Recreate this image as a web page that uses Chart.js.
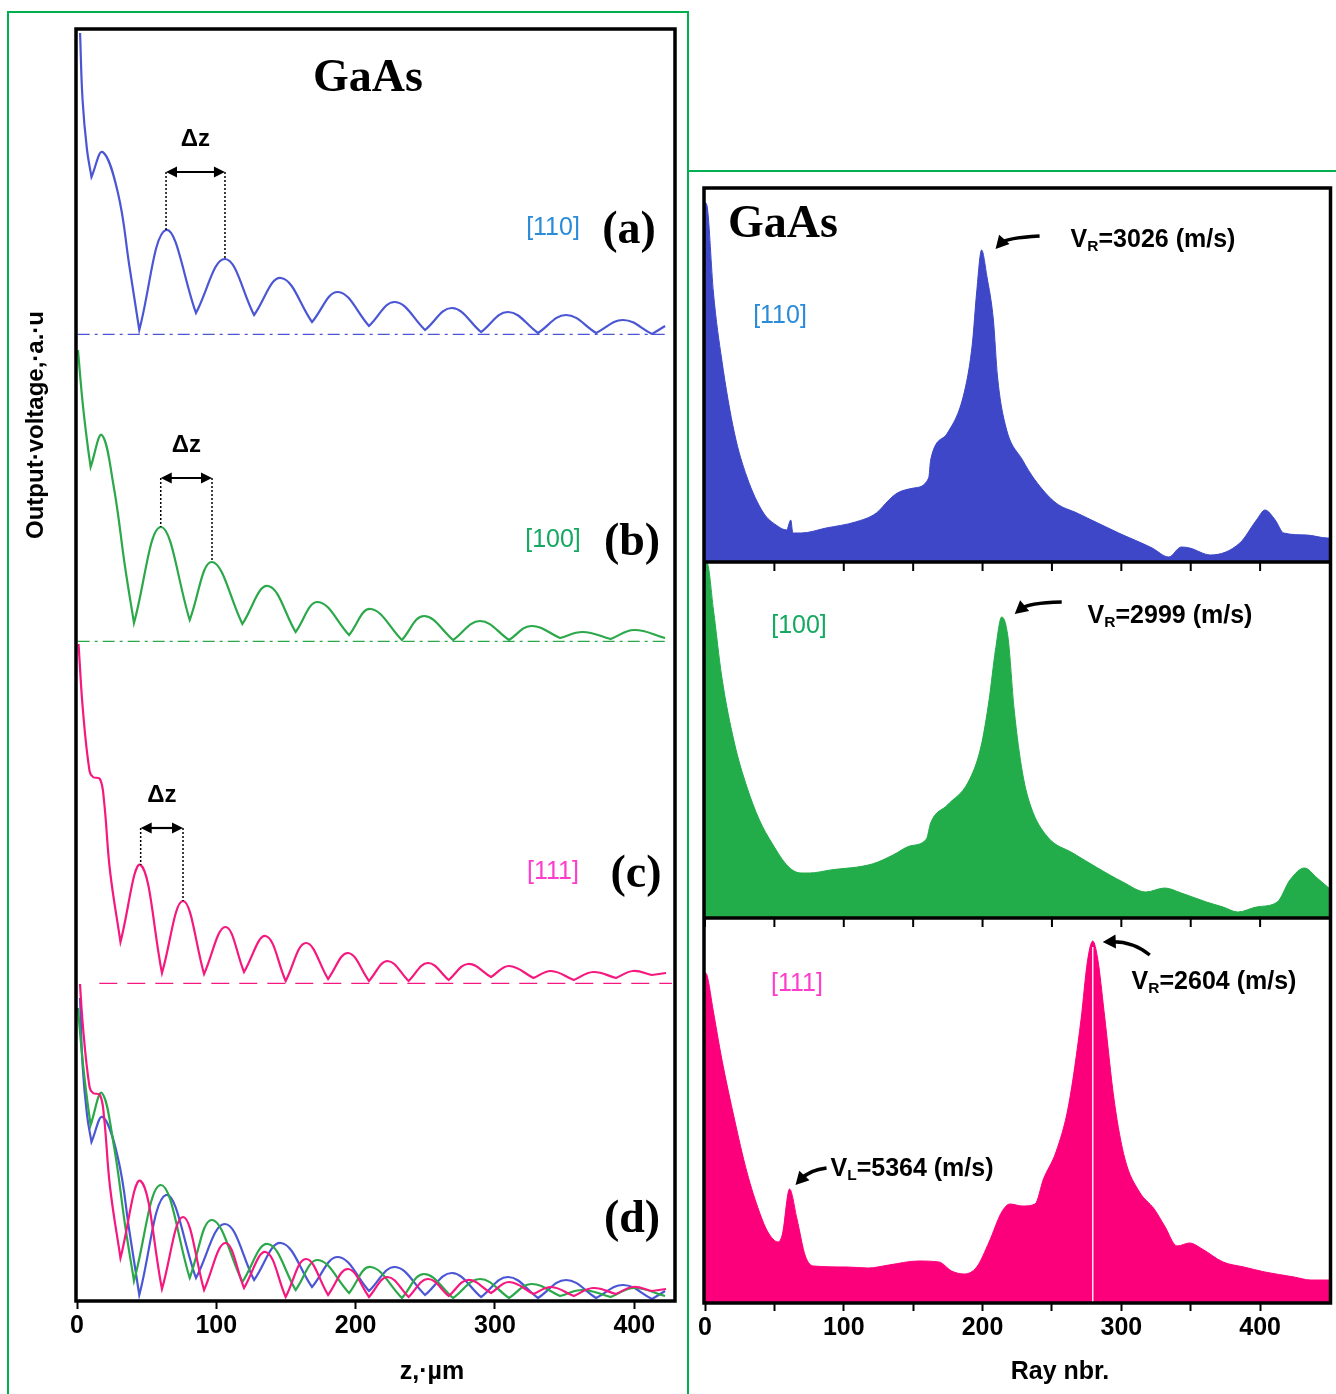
<!DOCTYPE html>
<html>
<head>
<meta charset="utf-8">
<title>GaAs</title>
<script src="https://cdn.jsdelivr.net/npm/chart.js@4.4.1/dist/chart.umd.min.js"></script>
<style>
  html, body { margin: 0; padding: 0; background: #fff; }
  #page { position: relative; width: 1336px; height: 1394px; overflow: hidden; background: #fff; }
  .box-left { position: absolute; left: 7px; top: 11px; width: 682px; height: 1500px; box-sizing: border-box; border: 2px solid #00b050; }
  .box-right { position: absolute; left: 687px; top: 170px; width: 700px; height: 1500px; box-sizing: border-box; border-top: 2px solid #00b050; border-left: 2px solid #00b050; }
  canvas { position: absolute; top: 0; }
  #left { left: 0; }
  #right { left: 690px; }
  .t { position: absolute; transform: translate(-50%, -50%); white-space: nowrap; line-height: 1;
       font-family: "Liberation Sans", Arial, sans-serif; color: #000; }
  .b { font-weight: bold; font-size: 25px; }
  .serif { font-family: "Liberation Serif", "Times New Roman", serif; font-weight: bold; font-size: 46px; }
  .dir { font-size: 25px; }
  .vert { transform: translate(-50%, -50%) rotate(-90deg); font-weight: bold; font-size: 24px; }
  sub { font-size: 62%; vertical-align: -0.3em; line-height: 0; }
</style>
</head>
<body>
<div id="page">
  <div class="box-left"></div>
  <div class="box-right"></div>
  <canvas id="left" width="700" height="1394"></canvas>
  <canvas id="right" width="646" height="1394"></canvas>

  <!-- left figure texts -->
  <div class="t serif" style="left:368px;top:76px">GaAs</div>
  <div class="t dir" style="left:553px;top:226px;color:#2a8bd8">[110]</div>
  <div class="t serif" style="left:629px;top:228px">(a)</div>
  <div class="t dir" style="left:553px;top:538px;color:#14a860">[100]</div>
  <div class="t serif" style="left:632px;top:540px">(b)</div>
  <div class="t dir" style="left:553px;top:870px;color:#ff3ccc">[111]</div>
  <div class="t serif" style="left:636px;top:872px">(c)</div>
  <div class="t serif" style="left:632px;top:1217px">(d)</div>
  <div class="t vert" style="left:35px;top:425px">Output·voltage,·a.·u</div>
  <div class="t b" style="left:432px;top:1370px">z,·µm</div>

  <!-- right figure texts -->
  <div class="t serif" style="left:783px;top:222px">GaAs</div>
  <div class="t dir" style="left:780px;top:314px;color:#2a8bd8">[110]</div>
  <div class="t dir" style="left:799px;top:624px;color:#14a860">[100]</div>
  <div class="t dir" style="left:797px;top:982px;color:#ff3ccc">[111]</div>
  <div class="t b" style="left:1153px;top:238px">V<sub>R</sub>=3026 (m/s)</div>
  <div class="t b" style="left:1170px;top:614px">V<sub>R</sub>=2999 (m/s)</div>
  <div class="t b" style="left:1214px;top:980px">V<sub>R</sub>=2604 (m/s)</div>
  <div class="t b" style="left:912px;top:1167px">V<sub>L</sub>=5364 (m/s)</div>
  <div class="t b" style="left:1060px;top:1370px">Ray nbr.</div>
</div>

<script>
// ---------------- DATA ----------------

// left: output voltage (a.u.) against depth z (um)
const zTicks = [0, 100, 200, 300, 400];

const zBlue = [2.2, 4.0, 7.2, 10.4, 18.4, 29.4, 37.7, 44.7, 63.9, 85.4, 106.2, 127.1, 146.4, 168.7, 187.4,
  209.6, 228.3, 249.8, 269.2, 290.0, 309.4, 330.9, 351.0, 372.6, 392.0, 412.8, 422.1];
const vBlue = [3.02, 2.35, 1.85, 1.58, 1.83, 1.42, 0.68, 0.05, 1.05, 0.22, 0.76, 0.20, 0.57, 0.13, 0.43,
  0.09, 0.33, 0.05, 0.27, 0.03, 0.23, 0.02, 0.20, 0.02, 0.15, 0.01, 0.09];

const zGreen = [0.7, 4.0, 7.5, 9.8, 17.8, 26.4, 34.5, 40.9, 60.1, 80.9, 96.9, 118.7, 137.0, 156.9, 172.9,
  195.3, 210.7, 233.2, 249.1, 269.9, 289.3, 310.1, 325.9, 346.7, 363.0, 383.1, 399.9, 422.1];
const vGreen = [2.92, 2.40, 1.98, 1.75, 2.07, 1.55, 0.75, 0.19, 1.15, 0.22, 0.80, 0.18, 0.56, 0.10, 0.40,
  0.07, 0.33, 0.02, 0.26, 0.02, 0.21, 0.02, 0.16, 0.04, 0.10, 0.03, 0.12, 0.04];

const zPink = [1.1, 4.3, 9.0, 11.5, 16.5, 19.4, 23.7, 31.2, 45.7, 61.0, 76.1, 91.2, 106.5, 119.9, 135.4,
  149.8, 164.3, 180.2, 194.5, 209.6, 222.9, 238.0, 251.8, 266.8, 280.6, 297.2, 310.1, 327.7, 340.3,
  356.6, 370.4, 386.9, 399.1, 412.6, 422.8];
const vPink = [3.40, 2.73, 2.13, 2.07, 2.05, 1.83, 1.13, 0.42, 1.19, 0.11, 0.83, 0.10, 0.57, 0.12, 0.48,
  0.03, 0.41, 0.05, 0.31, 0.03, 0.23, 0.03, 0.21, 0.04, 0.20, 0.07, 0.18, 0.06, 0.13,
  0.04, 0.12, 0.06, 0.13, 0.09, 0.11];

// peaks bracketed by the Δz markers
const dzBlue = [63.9, 106.2];
const dzGreen = [60.1, 96.9];
const dzPink = [45.7, 76.1];

// right: amplitude (a.u.) against ray number
const rayTicks = [0, 50, 100, 150, 200, 250, 300, 350, 400];

const rayBlue = [0, 1.6, 6.1, 12.1, 21.2, 30.2, 42.2, 51.2, 58.8, 61.8, 63.3, 69.3, 87.3, 108.4, 123.5,
  132.5, 138.6, 150.6, 161.2, 162.6, 174.7, 186.7, 192.7, 195.7, 199.3, 203.2, 207.8, 210.8, 216.8,
  228.8, 237.8, 252.9, 268.0, 298.1, 322.2, 334.2, 343.2, 349.2, 364.3, 385.4, 397.4, 403.5, 410.9,
  417.0, 433.5, 448.6, 452];
const ampBlue = [3.60, 3.55, 2.69, 2.02, 1.29, 0.85, 0.49, 0.37, 0.32, 0.42, 0.29, 0.29, 0.34, 0.40, 0.49,
  0.62, 0.69, 0.74, 0.84, 1.02, 1.29, 1.69, 2.19, 2.69, 3.12, 2.85, 2.42, 1.85, 1.35,
  1.02, 0.82, 0.59, 0.49, 0.29, 0.14, 0.05, 0.15, 0.14, 0.07, 0.19, 0.42, 0.52, 0.42,
  0.29, 0.27, 0.24, 0.24];

const rayGreen = [0, 1.6, 6.1, 12.1, 21.2, 30.2, 39.2, 48.2, 60.3, 69.3, 75.3, 90.4, 120.5, 135.5, 147.6,
  159.6, 162.6, 174.7, 189.7, 198.8, 204.7, 209.3, 213.8, 218.3, 222.8, 228.8, 234.9, 246.9, 265.0,
  283.0, 301.1, 317.6, 331.2, 343.2, 361.3, 373.3, 383.9, 397.4, 412.4, 421.5, 432.0, 441.1, 452];
const ampGreen = [3.56, 3.55, 3.08, 2.41, 1.75, 1.31, 0.98, 0.75, 0.51, 0.45, 0.45, 0.48, 0.54, 0.63, 0.72,
  0.79, 0.95, 1.13, 1.36, 1.71, 2.18, 2.68, 3.01, 2.81, 2.08, 1.45, 1.11, 0.81, 0.65,
  0.50, 0.36, 0.26, 0.30, 0.25, 0.16, 0.11, 0.06, 0.11, 0.16, 0.38, 0.50, 0.40, 0.27];

const rayPink = [0, 1.6, 6.1, 12.1, 21.2, 30.2, 39.2, 45.3, 52.7, 55.8, 60.9, 66.3, 72.3, 78.3, 102.4,
  117.5, 132.5, 153.6, 168.6, 177.7, 186.7, 195.8, 204.7, 213.8, 219.8, 228.8, 237.8, 243.9, 252.9,
  261.9, 271.0, 275.5, 279.4, 283.0, 287.6, 295.0, 302.6, 313.1, 323.7, 331.2, 340.2, 349.2, 358.3,
  373.3, 388.3, 403.5, 424.5, 436.5, 452];
const ampPink = [3.30, 3.26, 2.90, 2.43, 1.83, 1.30, 0.90, 0.70, 0.60, 0.68, 1.13, 0.83, 0.46, 0.36, 0.35,
  0.34, 0.37, 0.41, 0.40, 0.31, 0.28, 0.35, 0.60, 0.90, 0.98, 0.96, 0.98, 1.23, 1.50,
  1.96, 2.83, 3.40, 3.61, 3.43, 2.90, 2.00, 1.43, 1.10, 0.93, 0.76, 0.56, 0.59, 0.53,
  0.40, 0.35, 0.30, 0.25, 0.22, 0.22];

// the thin white streak through the [111] peak
const pinkStreakRay = 279.4;

// ---------------- COLOURS / FONTS ----------------
const BLUE = "#4b56d4", GREEN = "#2ba84a", PINK = "#f5187e";
const BLUE_FILL = "#3d47c8", GREEN_FILL = "#22ac4a", PINK_FILL = "#fc007c";
const TICK_FONT = { family: "'Liberation Sans', Arial, sans-serif", size: 25, weight: "bold" };

// ---------------- HELPERS ----------------
// minima of the interference curves are cusps: doubling the point makes the spline corner there
function curvePoints(xs, ys) {
  const pts = [];
  xs.forEach((x, i) => {
    pts.push({ x: x, y: ys[i] });
    if (i > 0 && i < xs.length - 1 && ys[i] < ys[i - 1] && ys[i] < ys[i + 1]) pts.push({ x: x, y: ys[i] });
  });
  return pts;
}
function pairs(xs, ys) { return xs.map((x, i) => ({ x: x, y: ys[i] })); }

function arrowHead(ctx, x, y, ang, len, half) {
  ctx.save();
  ctx.translate(x, y);
  ctx.rotate(ang);
  ctx.beginPath();
  ctx.moveTo(0, 0);
  ctx.lineTo(-len, -half);
  ctx.lineTo(-len, half);
  ctx.closePath();
  ctx.fill();
  ctx.restore();
}

// one hidden y axis per stacked panel; higher weight sits higher up
function panelAxis(max, weight) {
  return { type: "linear", axis: "y", position: "left", display: false, min: 0, max: max,
    stack: "panels", stackWeight: max, weight: weight };
}

// ---------------- PLUGINS ----------------
// keep each curve inside its own stacked panel
const panelClip = {
  id: "panelClip",
  beforeDatasetDraw(chart, args) {
    const y = chart.scales[args.meta.yAxisID];
    const a = chart.chartArea;
    chart.ctx.save();
    chart.ctx.beginPath();
    chart.ctx.rect(a.left - 3, y.top - 3, a.right - a.left + 6, y.bottom - y.top + 6);
    chart.ctx.clip();
  },
  afterDatasetDraw(chart) { chart.ctx.restore(); }
};

// heavy black frame round the plot area
const frame = {
  id: "frame",
  afterDatasetsDraw(chart) {
    const { ctx, chartArea: a } = chart;
    ctx.save();
    ctx.strokeStyle = "#000";
    ctx.lineWidth = 3.5;
    ctx.strokeRect(a.left - 1, a.top - 1, a.right - a.left + 2, a.bottom - a.top + 2);
    ctx.restore();
  }
};

// Δz double arrows between two neighbouring peaks
const dzMarks = [
  { axis: "ya", z: dzBlue, xs: zBlue, ys: vBlue, level: 1.63 },
  { axis: "yb", z: dzGreen, xs: zGreen, ys: vGreen, level: 1.64 },
  { axis: "yc", z: dzPink, xs: zPink, ys: vPink, level: 1.56 }
];
const dzArrows = {
  id: "dzArrows",
  afterDatasetsDraw(chart) {
    const ctx = chart.ctx, x = chart.scales.x;
    ctx.save();
    ctx.strokeStyle = "#000";
    ctx.fillStyle = "#000";
    dzMarks.forEach(m => {
      const y = chart.scales[m.axis];
      const yl = y.getPixelForValue(m.level);
      const px = m.z.map(z => x.getPixelForValue(z));
      const py = m.z.map(z => y.getPixelForValue(m.ys[m.xs.indexOf(z)]));
      ctx.lineWidth = 1.5;
      ctx.setLineDash([2, 2]);
      px.forEach((xx, i) => {
        ctx.beginPath();
        ctx.moveTo(xx, yl);
        ctx.lineTo(xx, py[i]);
        ctx.stroke();
      });
      ctx.setLineDash([]);
      ctx.lineWidth = 2.2;
      ctx.beginPath();
      ctx.moveTo(px[0] + 6, yl);
      ctx.lineTo(px[1] - 6, yl);
      ctx.stroke();
      arrowHead(ctx, px[0], yl, Math.PI, 11, 5.5);
      arrowHead(ctx, px[1], yl, 0, 11, 5.5);
      ctx.font = "bold 24px 'Liberation Sans', Arial, sans-serif";
      ctx.textAlign = "center";
      ctx.textBaseline = "middle";
      ctx.fillText("Δz", (px[0] + px[1]) / 2, yl - 33);
    });
    ctx.restore();
  }
};

// panel separators on the right, with their own ticks pointing down
const separators = {
  id: "separators",
  afterDatasetsDraw(chart) {
    const { ctx, chartArea: a, scales } = chart;
    ctx.save();
    ctx.strokeStyle = "#000";
    ["ra", "rb"].forEach(id => {
      const yb = scales[id].bottom;
      ctx.lineWidth = 3.5;
      ctx.beginPath();
      ctx.moveTo(a.left, yb);
      ctx.lineTo(a.right, yb);
      ctx.stroke();
      ctx.lineWidth = 2;
      rayTicks.forEach(r => {
        const xx = scales.x.getPixelForValue(r);
        ctx.beginPath();
        ctx.moveTo(xx, yb);
        ctx.lineTo(xx, yb + 9);
        ctx.stroke();
      });
    });
    ctx.restore();
  }
};

// curved arrows pointing at the labelled peaks (offsets in px from the peak)
const peakNotes = [
  { axis: "ra", xs: rayBlue, ys: ampBlue, at: 199.3, tail: [58, -14], ctrl: [24, -12], tip: [14, -1] },
  { axis: "rb", xs: rayGreen, ys: ampGreen, at: 213.8, tail: [60, -15], ctrl: [26, -14], tip: [13, -3] },
  { axis: "rc", xs: rayPink, ys: ampPink, at: 279.4, tail: [57, 14], ctrl: [40, 0], tip: [10, 1] },
  { axis: "rc", xs: rayPink, ys: ampPink, at: 60.9, tail: [37, -21], ctrl: [20, -19], tip: [6, -4] }
];
const peakArrows = {
  id: "peakArrows",
  afterDatasetsDraw(chart) {
    const ctx = chart.ctx, x = chart.scales.x;
    ctx.save();
    ctx.strokeStyle = "#000";
    ctx.fillStyle = "#000";
    ctx.lineWidth = 3.5;
    ctx.lineCap = "butt";
    peakNotes.forEach(n => {
      const y = chart.scales[n.axis];
      const px = x.getPixelForValue(n.at);
      const py = y.getPixelForValue(n.ys[n.xs.indexOf(n.at)]);
      const tx = px + n.tip[0], ty = py + n.tip[1];
      const cx = px + n.ctrl[0], cy = py + n.ctrl[1];
      const ang = Math.atan2(ty - cy, tx - cx);
      const ex = tx - Math.cos(ang) * 8, ey = ty - Math.sin(ang) * 8;
      ctx.beginPath();
      ctx.moveTo(px + n.tail[0], py + n.tail[1]);
      ctx.quadraticCurveTo(cx, cy, ex, ey);
      ctx.stroke();
      arrowHead(ctx, tx, ty, ang, 13, 7);
    });
    ctx.restore();
  }
};

// ---------------- LEFT CHART ----------------
function baseline(axis, from, to, color, dash) {
  return { data: [{ x: from, y: 0 }, { x: to, y: 0 }], yAxisID: axis, borderColor: color,
    borderWidth: 2.4, borderDash: dash, pointRadius: 0, tension: 0, order: 5 };
}
function curve(axis, xs, ys, color, order) {
  return { data: curvePoints(xs, ys), yAxisID: axis, borderColor: color, borderWidth: 2.2,
    pointRadius: 0, tension: 0.4, order: order };
}

const leftChart = new Chart(document.getElementById("left"), {
  type: "line",
  data: {
    datasets: [
      baseline("ya", 0.5, 423, BLUE, [12, 5, 3, 5]),
      curve("ya", zBlue, vBlue, BLUE, 1),
      baseline("yb", 0.5, 423, GREEN, [12, 5, 3, 5]),
      curve("yb", zGreen, vGreen, GREEN, 1),
      baseline("yc", 16, 427, PINK, [18, 10]),
      curve("yc", zPink, vPink, PINK, 1),
      curve("yd", zBlue, vBlue, BLUE, 3),
      curve("yd", zGreen, vGreen, GREEN, 2),
      curve("yd", zPink, vPink, PINK, 1)
    ]
  },
  options: {
    responsive: false,
    animation: false,
    layout: { padding: { left: 77, top: 30, right: 26, bottom: 0 } },
    plugins: { legend: { display: false }, tooltip: { enabled: false } },
    scales: {
      x: {
        type: "linear", min: 0, max: 428.5,
        afterBuildTicks: s => { s.ticks = zTicks.map(v => ({ value: v })); },
        afterFit: s => { s.height = 94; },
        ticks: { font: TICK_FONT, color: "#000", padding: 2, autoSkip: false, maxRotation: 0 },
        grid: { drawOnChartArea: false, tickLength: 9, tickWidth: 2, tickColor: "#000" },
        border: { display: false }
      },
      ya: panelAxis(3.05, 4),
      yb: panelAxis(3.07, 3),
      yc: panelAxis(3.42, 2),
      yd: panelAxis(3.16, 1)
    }
  },
  plugins: [panelClip, frame, dzArrows]
});

// ---------------- RIGHT CHART ----------------
function area(axis, xs, ys, color) {
  return { data: pairs(xs, ys), yAxisID: axis, borderColor: color, backgroundColor: color,
    borderWidth: 1, fill: "origin", pointRadius: 0, cubicInterpolationMode: "monotone", order: 2 };
}

const rightChart = new Chart(document.getElementById("right"), {
  type: "line",
  data: {
    datasets: [
      area("ra", rayBlue, ampBlue, BLUE_FILL),
      area("rb", rayGreen, ampGreen, GREEN_FILL),
      area("rc", rayPink, ampPink, PINK_FILL),
      { data: [{ x: pinkStreakRay, y: 0 }, { x: pinkStreakRay, y: 3.55 }], yAxisID: "rc",
        borderColor: "#ffe6f2", borderWidth: 1.5, pointRadius: 0, order: 0 }
    ]
  },
  options: {
    responsive: false,
    animation: false,
    layout: { padding: { left: 15, top: 189, right: 6.5, bottom: 0 } },
    plugins: { legend: { display: false }, tooltip: { enabled: false } },
    scales: {
      x: {
        type: "linear", min: 0, max: 450,
        afterBuildTicks: s => { s.ticks = rayTicks.map(v => ({ value: v })); },
        afterFit: s => { s.height = 92; },
        ticks: { font: TICK_FONT, color: "#000", padding: 2, autoSkip: false, maxRotation: 0,
          callback: v => (v % 100 === 0 ? v : "") },
        grid: { drawOnChartArea: false, tickLength: 9, tickWidth: 2, tickColor: "#000" },
        border: { display: false }
      },
      ra: panelAxis(3.73, 3),
      rb: panelAxis(3.56, 2),
      rc: panelAxis(3.84, 1)
    }
  },
  plugins: [frame, separators, peakArrows]
});
</script>
</body>
</html>
